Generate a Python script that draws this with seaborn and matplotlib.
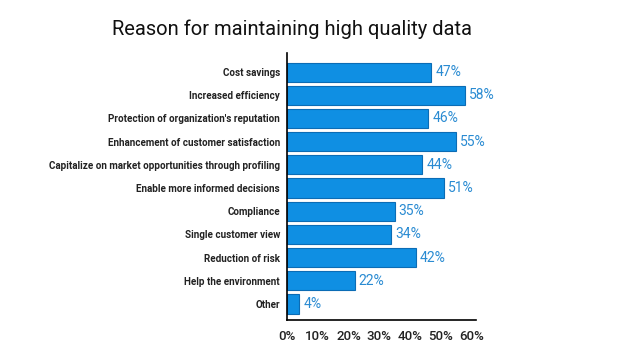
import matplotlib
matplotlib.use('Agg')
import matplotlib.pyplot as plt
import seaborn as sns
import pandas as pd

reasons = [
    "Cost savings",
    "Increased efficiency",
    "Protection of organization's reputation",
    "Enhancement of customer satisfaction",
    "Capitalize on market opportunities through profiling",
    "Enable more informed decisions",
    "Compliance",
    "Single customer view",
    "Reduction of risk",
    "Help the environment",
    "Other",
]
shares = [47, 58, 46, 55, 44, 51, 35, 34, 42, 22, 4]
x_ticks = [0, 10, 20, 30, 40, 50, 60]

df = pd.DataFrame({"reason": reasons, "share": shares})

sns.set_style("white")
plt.rcParams['font.family'] = ['Roboto', 'DejaVu Sans']

fig = plt.figure(figsize=(6.4, 3.58), dpi=100)
ax = fig.add_axes([287 / 640, 1 - 320 / 358, 189 / 640, 267 / 358])

sns.barplot(data=df, x="share", y="reason", color="#0f8fe3", saturation=1,
            width=0.82, edgecolor="#0b6cb5", linewidth=0.8, ax=ax)

for i, v in enumerate(shares):
    ax.text(v + 1.3, i, f"{v}%", va="center", ha="left",
            fontsize=10, color="#2a8bd2")

ax.set_xlim(0, 61.5)
ax.set_ylim(len(reasons) - 1 + 0.69, -0.82)
ax.set_xticks(x_ticks)
ax.set_xticklabels([f"{t}%" for t in x_ticks], fontsize=9.5, fontweight="medium", color="#222222")
ax.tick_params(axis="x", length=0, pad=7)
ax.tick_params(axis="y", length=0, pad=5)
for lbl in ax.get_yticklabels():
    lbl.set_fontsize(7.1)
    lbl.set_fontweight("bold")
    lbl.set_color("#222222")
ax.set_xlabel("")
ax.set_ylabel("")

for side in ["top", "right"]:
    ax.spines[side].set_visible(False)
for side in ["left", "bottom"]:
    ax.spines[side].set_color("black")
    ax.spines[side].set_linewidth(1.2)

fig.text(292 / 640, 1 - 29 / 358, "Reason for maintaining high quality data",
         ha="center", va="center", fontsize=14.5, color="#111111")

fig.savefig("out.png", dpi=100)
plt.close(fig)
